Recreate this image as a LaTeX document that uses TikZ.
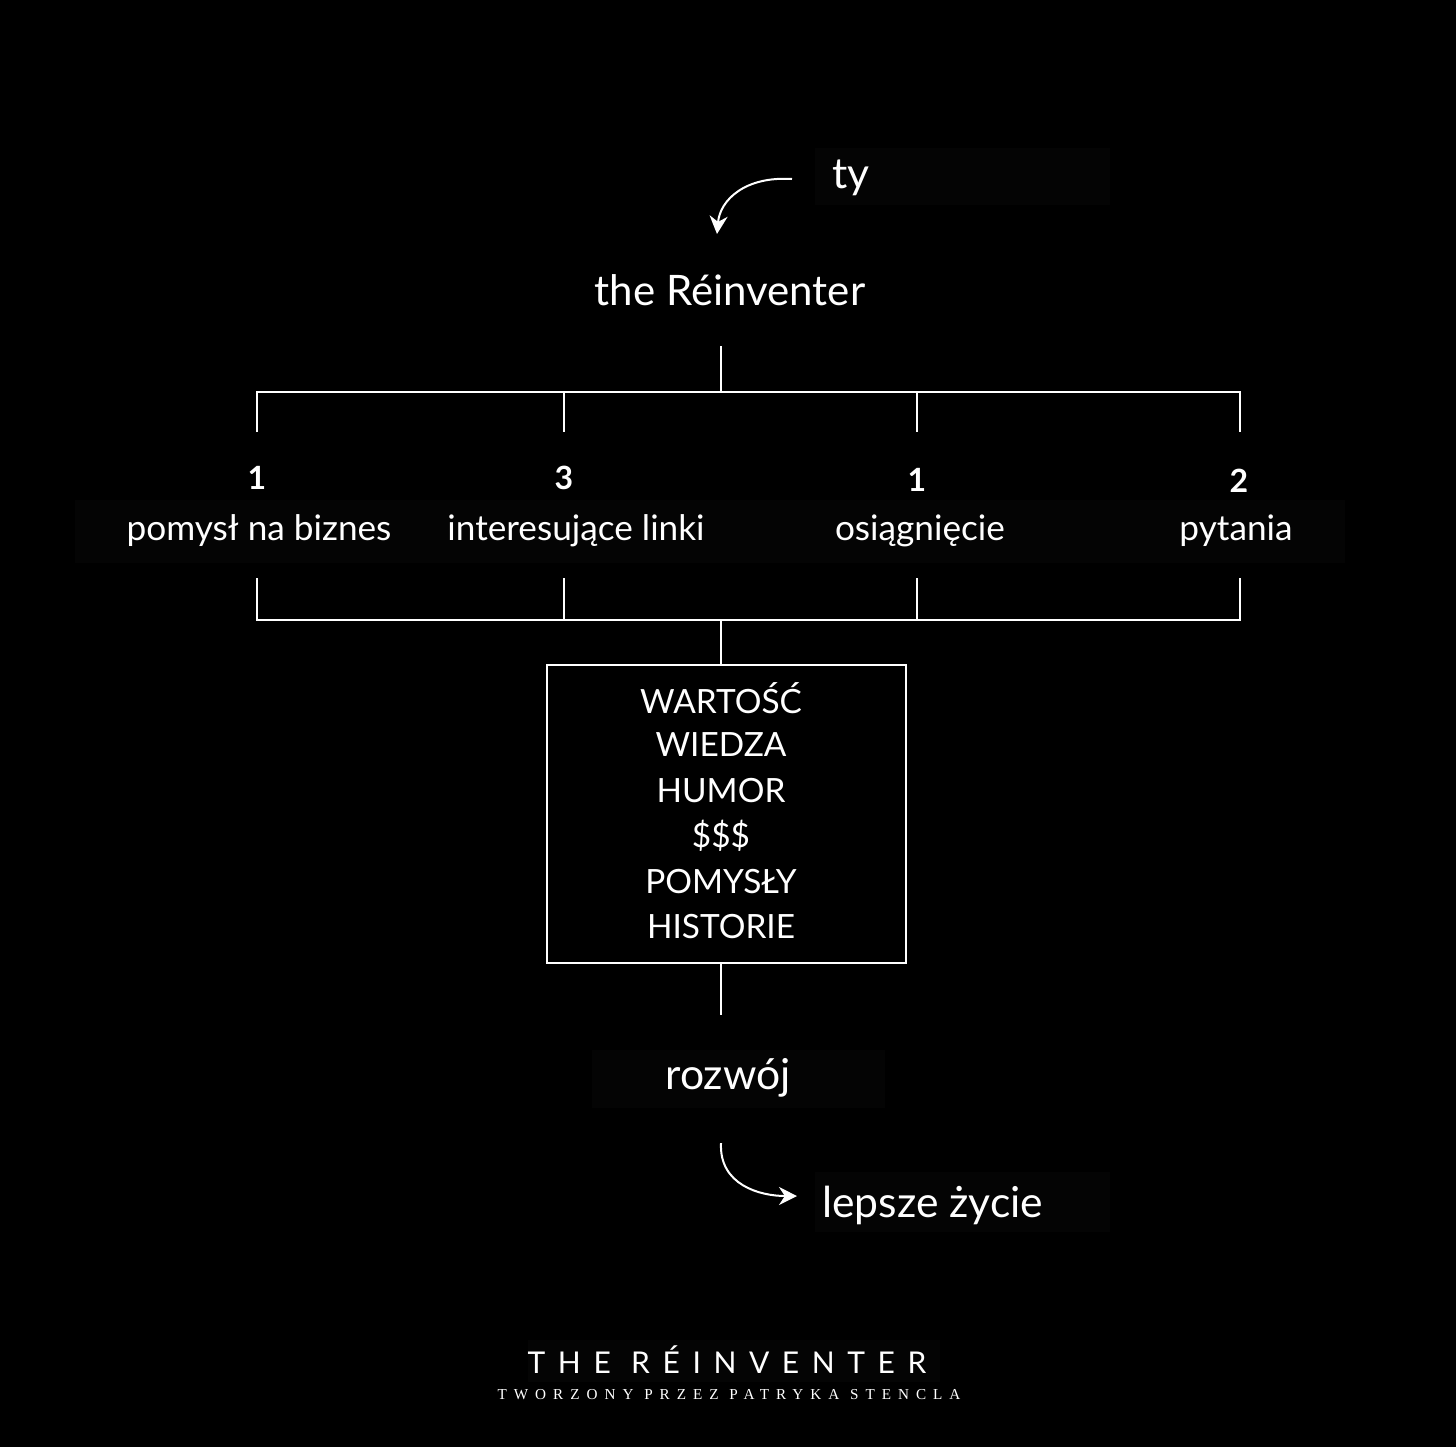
\documentclass[tikz,border=0pt]{standalone}
\usepackage{fontspec}
\setmainfont{Lato}
\newfontfamily\footsans[LetterSpace=42]{Lato}
\newfontfamily\footserif[LetterSpace=46]{Liberation Serif}
\usetikzlibrary{arrows.meta}
\definecolor{faint}{RGB}{4,4,4}
\begin{document}
\begin{tikzpicture}[x=0.5pt,y=-0.5pt,
  conn/.style={draw=white,line width=1pt},
  curvearrow/.style={draw=white,line width=1pt,-{Stealth[length=9pt,width=9pt]}},
  lbl/.style={text=white,inner sep=0pt,font=\fontsize{17.6}{19}\selectfont},
  num/.style={text=white,inner sep=0pt,font=\fontsize{16}{18}\selectfont\bfseries},
  big/.style={text=white,inner sep=0pt,font=\fontsize{21.3}{24}\selectfont},
  title/.style={text=white,inner sep=0pt,font=\fontsize{21}{24}\selectfont},
  boxtxt/.style={text=white,inner sep=0pt,font=\fontsize{16.7}{18}\selectfont},
  faintbox/.style={fill=faint}]
\fill[black] (0,0) rectangle (1456,1447);
\useasboundingbox (0,0) rectangle (1456,1447);
% faint text-box backgrounds
\fill[faintbox] (815,148) rectangle (1110,205);
\fill[faintbox] (75,500) rectangle (1345,563);
\fill[faintbox] (592,1050) rectangle (885,1108);
\fill[faintbox] (815,1172) rectangle (1110,1232);
\fill[faintbox] (528,1340) rectangle (940,1382);

% texts
\node[big,anchor=west] (ty) at (832,178) {ty};
\node[title] (re) at (730,290) {the Réinventer};
\coordinate (arrS) at (792,179);
\coordinate (arrE) at (717,234);
\draw[curvearrow] (arrS) .. controls (745,176) and (720,200) .. (arrE);

\coordinate (t0) at (721,346);
\coordinate (t1) at (721,392);
\coordinate (hA) at (257,392);
\coordinate (hB) at (564,392);
\coordinate (hC) at (917,392);
\coordinate (hD) at (1240,392);
\coordinate (dA) at (257,432);
\coordinate (dB) at (564,432);
\coordinate (dC) at (917,432);
\coordinate (dD) at (1240,432);
\draw[conn] (t0) -- (t1);
\draw[conn] (dA) -- (hA) -- (hD) -- (dD);
\draw[conn] (hB) -- (dB);
\draw[conn] (hC) -- (dC);

\node[num] (nA) at (257,478) {1};
\node[num] (nB) at (564,478) {3};
\node[num] (nC) at (917,480) {1};
\node[num] (nD) at (1239,481) {2};
\node[lbl] (lA) at (259,531) {pomysł na biznes};
\node[lbl] (lB) at (576,531) {interesujące linki};
\node[lbl] (lC) at (920,531) {osiągnięcie};
\node[lbl] (lD) at (1236,531) {pytania};

\coordinate (uA) at (257,578);
\coordinate (uB) at (564,578);
\coordinate (uC) at (917,578);
\coordinate (uD) at (1240,578);
\coordinate (bA) at (257,620);
\coordinate (bB) at (564,620);
\coordinate (bC) at (917,620);
\coordinate (bD) at (1240,620);
\coordinate (bM) at (721,620);
\draw[conn] (uA) -- (bA) -- (bD) -- (uD);
\draw[conn] (uB) -- (bB);
\draw[conn] (uC) -- (bC);

\node[draw=white,line width=1pt,minimum width=179.5pt,minimum height=149pt,inner sep=0pt] (box) at (726.5,814) {};
\draw[conn] (bM) -- (box.north -| bM);
\node[boxtxt] (w1) at (721,698) {WARTOŚĆ};
\node[boxtxt] (w2) at (721,745) {WIEDZA};
\node[boxtxt] (w3) at (721,791) {HUMOR};
\node[boxtxt] (w4) at (721,836) {\$\$\$};
\node[boxtxt] (w5) at (721,882) {POMYSŁY};
\node[boxtxt] (w6) at (721,927) {HISTORIE};

\coordinate (lo) at (721,1015);
\draw[conn] (box.south -| lo) -- (lo);
\node[big] (rozwoj) at (728,1078) {rozwój};
\node[big,anchor=west] (lepsze) at (822,1205) {lepsze życie};
\coordinate (a2S) at (721,1143);
\coordinate (a2E) at (797,1196);
\draw[curvearrow] (a2S) .. controls (719,1185) and (760,1196) .. (a2E);

\node[text=white,inner sep=0pt,font=\footsans\fontsize{15}{17}\selectfont] (f1) at (727,1360) {THE RÉINVENTER};
\node[text=white,inner sep=0pt,font=\footserif\fontsize{7.6}{9}\selectfont] (f2) at (729,1395) {TWORZONY PRZEZ PATRYKA STENCLA};
\end{tikzpicture}
\end{document}
